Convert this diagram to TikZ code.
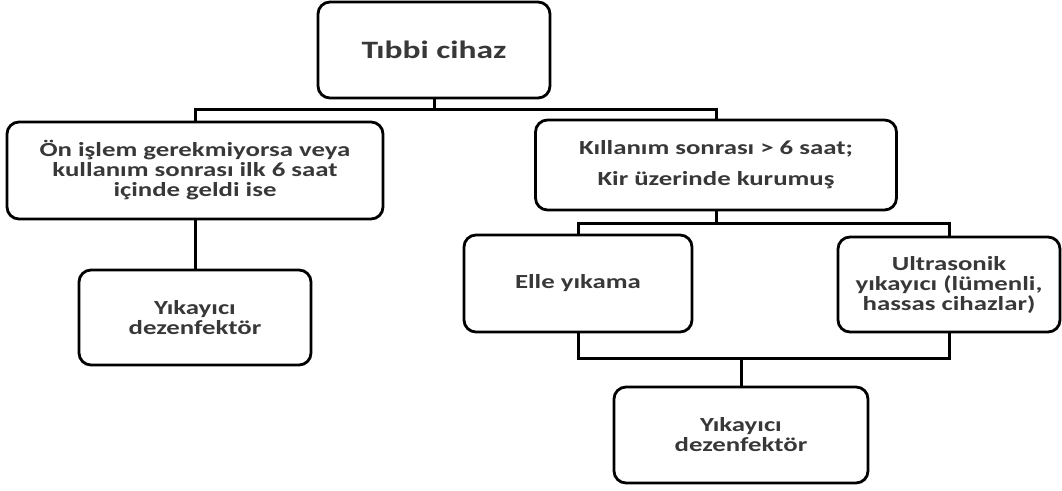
\documentclass[tikz,border=0pt]{standalone}
\usepackage{fontspec}
\setmainfont{Carlito}[FakeStretch=1.34]
\usepackage{tikz}

\begin{document}
\begin{tikzpicture}[
    x=1pt, y=-1pt,
    every node/.style={font=\fontsize{20}{20}\selectfont\bfseries},
    box/.style={rectangle, draw, rounded corners=12pt, line width=2.8pt, align=center, inner sep=0pt, text=black!78},
    link/.style={draw, line width=3pt},
]
\useasboundingbox (0,0) rectangle (1062,490);
\node[box, minimum width=232pt, minimum height=96pt, font=\fontsize{25}{25}\selectfont\bfseries] (root) at (434,50) {Tıbbi cihaz};
\node[box, minimum width=376pt, minimum height=97pt] (pre) at (195,170.5) {Ön işlem gerekmiyorsa veya\\kullanım sonrası ilk 6 saat\\içinde geldi ise};
\node[box, minimum width=361pt, minimum height=90pt, font=\fontsize{20}{31}\selectfont\bfseries] (late) at (716,165) {Kıllanım sonrası > 6 saat;\\Kir üzerinde kurumuş};
\node[box, minimum width=232pt, minimum height=95pt] (wdleft) at (195,317.5) {Yıkayıcı\\dezenfektör};
\node[box, minimum width=228pt, minimum height=97pt] (manual) at (578,283.5) {Elle yıkama};
\node[box, minimum width=222pt, minimum height=95pt] (ultra) at (949,284.5) {Ultrasonik\\yıkayıcı (lümenli,\\hassas cihazlar)};
\node[box, minimum width=254pt, minimum height=96pt] (wdright) at (741,435) {Yıkayıcı\\dezenfektör};
\coordinate (split) at (434,109);
\coordinate (splitR) at (716,223);
\coordinate (joinR) at (741,358);
\draw[link] (root) -- (split);
\draw[link] (pre.north) |- (split) -| (late.north);
\draw[link] (pre) -- (wdleft);
\draw[link] (late) -- (splitR);
\draw[link] (manual.north) |- (splitR) -| (ultra.north);
\draw[link] (manual.south) |- (joinR) -| (ultra.south);
\draw[link] (joinR) -- (wdright);
\end{tikzpicture}
\end{document}
